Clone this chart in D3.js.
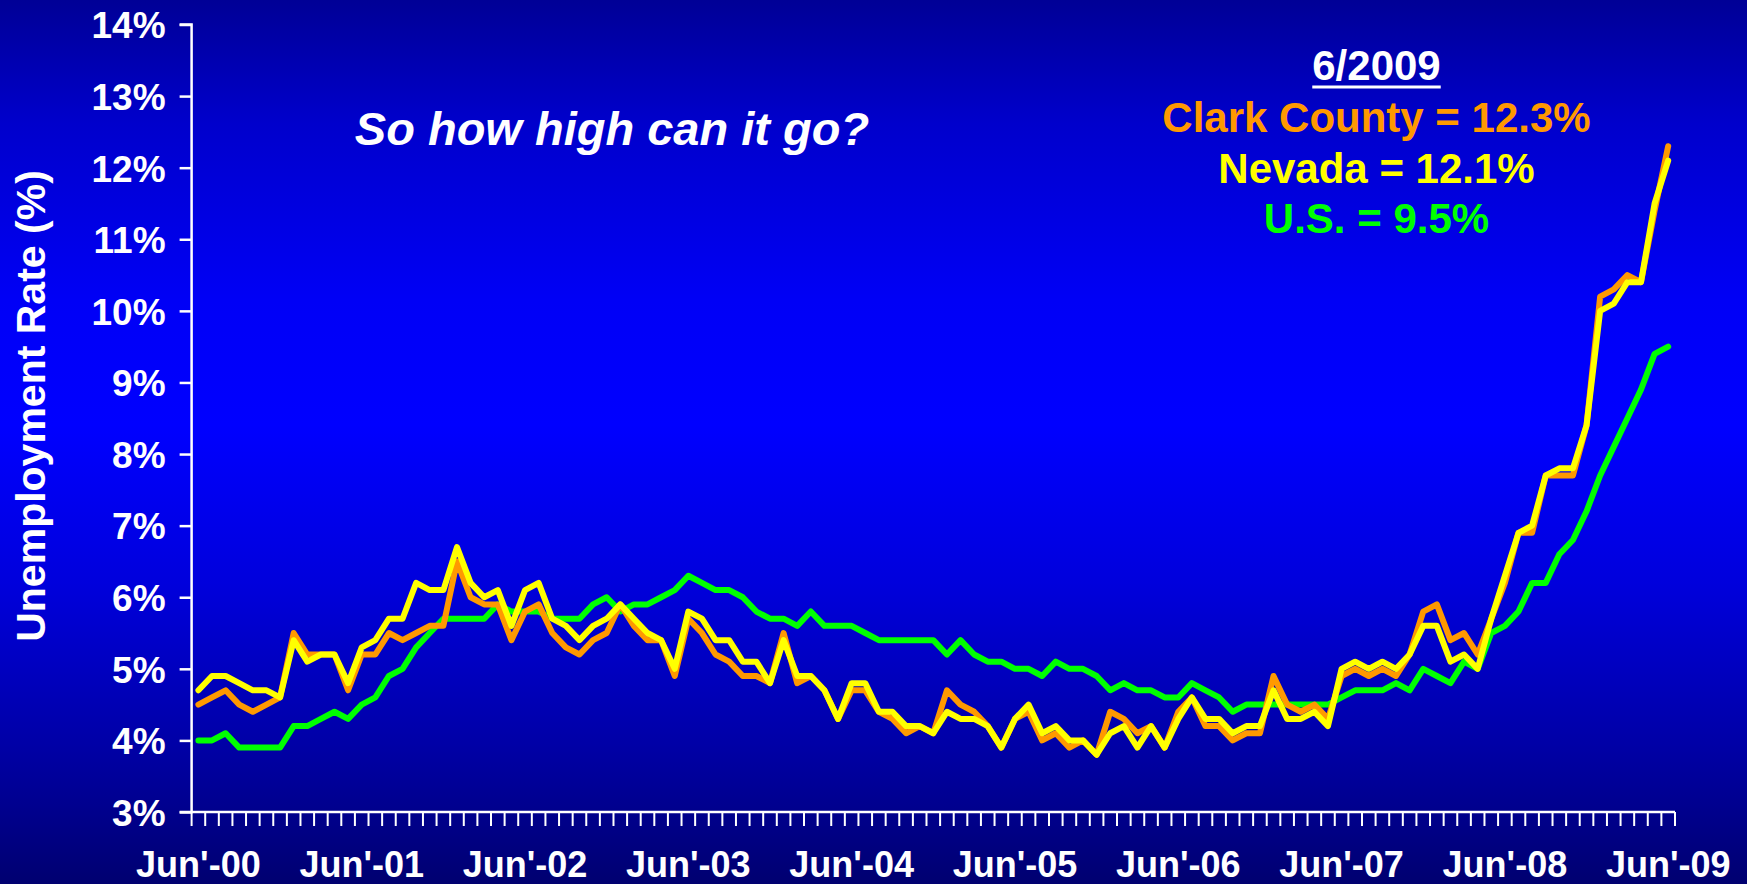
<!DOCTYPE html>
<html>
<head>
<meta charset="utf-8">
<script src="https://cdn.jsdelivr.net/npm/d3@7"></script>
<style>
  html, body { margin: 0; padding: 0; background: #0000c0; }
  svg { display: block; }
  text { font-family: "Liberation Sans", Arial, Helvetica, sans-serif; font-weight: bold; }
</style>
</head>
<body>
<svg id="chart" width="1747" height="884"></svg>
<script>
// Monthly categories, June 2000 through June 2009
const months = d3.timeMonth.range(new Date(2000, 5, 1), new Date(2009, 6, 1));
const yearLabels = ["Jun'-00", "Jun'-01", "Jun'-02", "Jun'-03", "Jun'-04",
                    "Jun'-05", "Jun'-06", "Jun'-07", "Jun'-08", "Jun'-09"];
const yTicks = [3, 4, 5, 6, 7, 8, 9, 10, 11, 12, 13, 14];

// Unemployment rates (%), one value per month
const clarkCounty = [
  4.5, 4.6, 4.7, 4.5, 4.4, 4.5, 4.6, 5.5, 5.2, 5.2, 5.2, 4.7,
  5.2, 5.2, 5.5, 5.4, 5.5, 5.6, 5.6, 6.5, 6.0, 5.9, 5.9, 5.4,
  5.8, 5.9, 5.5, 5.3, 5.2, 5.4, 5.5, 5.9, 5.6, 5.4, 5.4, 4.9,
  5.7, 5.5, 5.2, 5.1, 4.9, 4.9, 4.8, 5.5, 4.8, 4.9, 4.7, 4.3,
  4.7, 4.7, 4.4, 4.3, 4.1, 4.2, 4.1, 4.7, 4.5, 4.4, 4.2, 3.9,
  4.3, 4.4, 4.0, 4.1, 3.9, 4.0, 3.8, 4.4, 4.3, 4.1, 4.2, 3.9,
  4.4, 4.6, 4.2, 4.2, 4.0, 4.1, 4.1, 4.9, 4.5, 4.4, 4.5, 4.3,
  4.9, 5.0, 4.9, 5.0, 4.9, 5.2, 5.8, 5.9, 5.4, 5.5, 5.2, 5.7,
  6.2, 6.9, 6.9, 7.7, 7.7, 7.7, 8.4, 10.2, 10.3, 10.5, 10.4, 11.4,
  12.3
];
const nevada = [
  4.7, 4.9, 4.9, 4.8, 4.7, 4.7, 4.6, 5.4, 5.1, 5.2, 5.2, 4.8,
  5.3, 5.4, 5.7, 5.7, 6.2, 6.1, 6.1, 6.7, 6.2, 6.0, 6.1, 5.6,
  6.1, 6.2, 5.7, 5.6, 5.4, 5.6, 5.7, 5.9, 5.7, 5.5, 5.4, 5.0,
  5.8, 5.7, 5.4, 5.4, 5.1, 5.1, 4.8, 5.4, 4.9, 4.9, 4.7, 4.3,
  4.8, 4.8, 4.4, 4.4, 4.2, 4.2, 4.1, 4.4, 4.3, 4.3, 4.2, 3.9,
  4.3, 4.5, 4.1, 4.2, 4.0, 4.0, 3.8, 4.1, 4.2, 3.9, 4.2, 3.9,
  4.3, 4.6, 4.3, 4.3, 4.1, 4.2, 4.2, 4.7, 4.3, 4.3, 4.4, 4.2,
  5.0, 5.1, 5.0, 5.1, 5.0, 5.2, 5.6, 5.6, 5.1, 5.2, 5.0, 5.7,
  6.3, 6.9, 7.0, 7.7, 7.8, 7.8, 8.4, 10.0, 10.1, 10.4, 10.4, 11.5,
  12.1
];
const unitedStates = [
  4.0, 4.0, 4.1, 3.9, 3.9, 3.9, 3.9, 4.2, 4.2, 4.3, 4.4, 4.3,
  4.5, 4.6, 4.9, 5.0, 5.3, 5.5, 5.7, 5.7, 5.7, 5.7, 5.9, 5.8,
  5.8, 5.8, 5.7, 5.7, 5.7, 5.9, 6.0, 5.8, 5.9, 5.9, 6.0, 6.1,
  6.3, 6.2, 6.1, 6.1, 6.0, 5.8, 5.7, 5.7, 5.6, 5.8, 5.6, 5.6,
  5.6, 5.5, 5.4, 5.4, 5.4, 5.4, 5.4, 5.2, 5.4, 5.2, 5.1, 5.1,
  5.0, 5.0, 4.9, 5.1, 5.0, 5.0, 4.9, 4.7, 4.8, 4.7, 4.7, 4.6,
  4.6, 4.8, 4.7, 4.6, 4.4, 4.5, 4.5, 4.5, 4.5, 4.5, 4.5, 4.5,
  4.6, 4.7, 4.7, 4.7, 4.8, 4.7, 5.0, 4.9, 4.8, 5.1, 5.0, 5.5,
  5.6, 5.8, 6.2, 6.2, 6.6, 6.8, 7.2, 7.7, 8.1, 8.5, 8.9, 9.4,
  9.5
];

const seriesNames = ["U.S.", "Clark County", "Nevada"];
const seriesColors = ["#00ff00", "#ff9900", "#ffff00"];
const seriesValues = [unitedStates, clarkCounty, nevada];

const headline = "So how high can it go?";
const latestMonth = "6/2009";

const svg = d3.select("#chart");
const W = 1747, H = 884;

// Background gradient
const defs = svg.append("defs");
const grad = defs.append("linearGradient")
  .attr("id", "bg").attr("x1", 0).attr("y1", 0).attr("x2", 0).attr("y2", 1);
[[0, "#000096"], [0.14, "#0000cc"], [0.34, "#0000f6"], [0.48, "#0000ff"],
 [0.66, "#0000dc"], [0.85, "#0000a4"], [1, "#000070"]]
  .forEach(([o, c]) => grad.append("stop").attr("offset", o).attr("stop-color", c));
svg.append("rect").attr("width", W).attr("height", H).attr("fill", "url(#bg)");

// Scales
const x = d3.scaleBand().domain(d3.range(months.length)).range([191.6, 1675]).padding(0);
const cx = i => x(i) + x.bandwidth() / 2;
const y = d3.scaleLinear().domain([3, 14]).range([812, 24.5]);

// Lines
const line = d3.line().x((d, i) => cx(i)).y(d => y(d));
const lineG = svg.append("g");
seriesValues.forEach((vals, k) => {
  lineG.append("path")
    .datum(vals)
    .attr("fill", "none")
    .attr("stroke", seriesColors[k])
    .attr("stroke-width", 6)
    .attr("stroke-linejoin", "round")
    .attr("stroke-linecap", "round")
    .attr("d", line);
});

// Y axis
const yAxis = d3.axisLeft(y).tickValues(yTicks).tickSize(12).tickPadding(14)
  .tickFormat(d => d + "%");
const yG = svg.append("g").attr("transform", "translate(191.6,0)").call(yAxis);
yG.select(".domain").attr("stroke", "#fff").attr("stroke-width", 2.5).attr("d", `M-12,${y(14)}H0V${y(3)}H-12`);
yG.selectAll(".tick line").attr("stroke", "#fff").attr("stroke-width", 2.5);
yG.selectAll(".tick text").attr("fill", "#fff").attr("font-size", 37).attr("dy", "0.36em");

// X axis: tick at every month boundary, a label under each June
const boundaries = d3.range(months.length + 1);
const xG = svg.append("g").attr("transform", "translate(0,812)");
xG.append("line").attr("x1", 191.6).attr("x2", 1675).attr("y1", 0).attr("y2", 0)
  .attr("stroke", "#fff").attr("stroke-width", 2.5);
xG.selectAll("line.tk").data(boundaries).join("line").attr("class", "tk")
  .attr("x1", i => i < months.length ? x(i) : x(months.length - 1) + x.bandwidth())
  .attr("x2", i => i < months.length ? x(i) : x(months.length - 1) + x.bandwidth())
  .attr("y1", 0).attr("y2", 14)
  .attr("stroke", "#fff").attr("stroke-width", 2);
xG.selectAll("text.lbl").data(yearLabels).join("text").attr("class", "lbl")
  .attr("x", (d, j) => cx(j * 12))
  .attr("y", 65)
  .attr("text-anchor", "middle")
  .attr("fill", "#fff")
  .attr("font-size", 36)
  .text(d => d);

// Y axis title
svg.append("text")
  .attr("transform", "translate(45,406) rotate(-90)")
  .attr("text-anchor", "middle")
  .attr("fill", "#fff")
  .attr("font-size", 41)
  .text("Unemployment Rate (%)");

// Headline
svg.append("text")
  .attr("x", 612).attr("y", 145)
  .attr("text-anchor", "middle")
  .attr("fill", "#fff")
  .attr("font-size", 47)
  .attr("font-style", "italic")
  .text(headline);

// Latest readings
const legendX = 1376.5;
const dateText = svg.append("text")
  .attr("x", legendX).attr("y", 80)
  .attr("text-anchor", "middle")
  .attr("fill", "#fff")
  .attr("font-size", 42)
  .text(latestMonth);
const bb = dateText.node().getBBox();
svg.append("rect").attr("x", bb.x).attr("y", 85.5).attr("width", bb.width).attr("height", 3).attr("fill", "#fff");

const legendOrder = [1, 2, 0];
const legendY = [131.5, 182.5, 233];
legendOrder.forEach((k, j) => {
  const vals = seriesValues[k];
  svg.append("text")
    .attr("x", legendX).attr("y", legendY[j])
    .attr("text-anchor", "middle")
    .attr("fill", seriesColors[k])
    .attr("font-size", 42)
    .text(`${seriesNames[k]} = ${vals[vals.length - 1].toFixed(1)}%`);
});
</script>
</body>
</html>
